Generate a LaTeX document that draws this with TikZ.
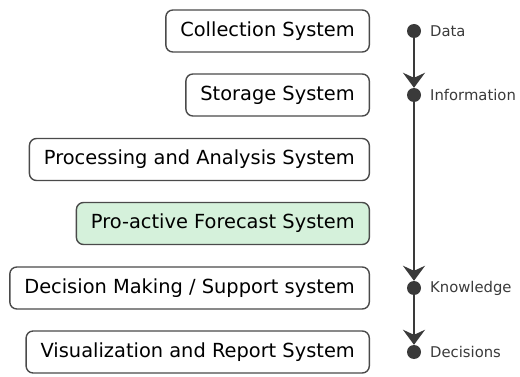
\documentclass[tikz,border=0pt]{standalone}
\usepackage{fontspec}
\setmainfont{DejaVu Sans}
\usetikzlibrary{arrows.meta}
\definecolor{edgegray}{HTML}{3A3A3A}
\definecolor{boxline}{HTML}{4A4A4A}
\definecolor{greenfill}{HTML}{D5F1DB}
\tikzset{
  sysbox/.style={draw=boxline, line width=1.4pt, rounded corners=7pt, fill=white,
    anchor=east, minimum height=42pt, inner xsep=14.5pt, inner ysep=0pt,
    font=\fontsize{19.4}{23}\selectfont, text=black},
  dot/.style={circle, fill=edgegray, minimum size=14pt, inner sep=0pt},
  stagelabel/.style={anchor=west, font=\fontsize{14.8}{17}\selectfont, text=edgegray, inner sep=0pt},
  flow/.style={draw=edgegray, line width=2pt, -{Stealth[length=15pt, width=22pt, inset=5pt]}},
}
\begin{document}
\begin{tikzpicture}[x=1pt, y=-1pt]
  \useasboundingbox (0,0) rectangle (520,377);
  % system stack, right-aligned
  \node[sysbox] (collect) at (370,31) {Collection System};
  \node[sysbox] (store) at (370,95) {Storage System};
  \node[sysbox] (process) at (370,159.5) {Processing and Analysis System};
  \node[sysbox, fill=greenfill] (forecast) at (370,223.5) {Pro-active Forecast System};
  \node[sysbox] (decide) at (370,288) {Decision Making / Support system};
  \node[sysbox] (visual) at (370,352) {Visualization and Report System};
  % value chain on the right
  \node[dot] (data) at (414,31) {};
  \node[dot] (info) at (414,95) {};
  \node[dot] (know) at (414,288) {};
  \node[dot] (dec) at (414,352) {};
  \node[stagelabel] (ldata) at (430,31) {Data};
  \node[stagelabel] (linfo) at (430,95) {Information};
  \node[stagelabel] (lknow) at (430,288) {Knowledge};
  \node[stagelabel] (ldec) at (430,352) {Decisions};
  \draw[flow] (data) -- (info);
  \draw[flow] (info) -- (know);
  \draw[flow] (know) -- (dec);
\end{tikzpicture}
\end{document}
